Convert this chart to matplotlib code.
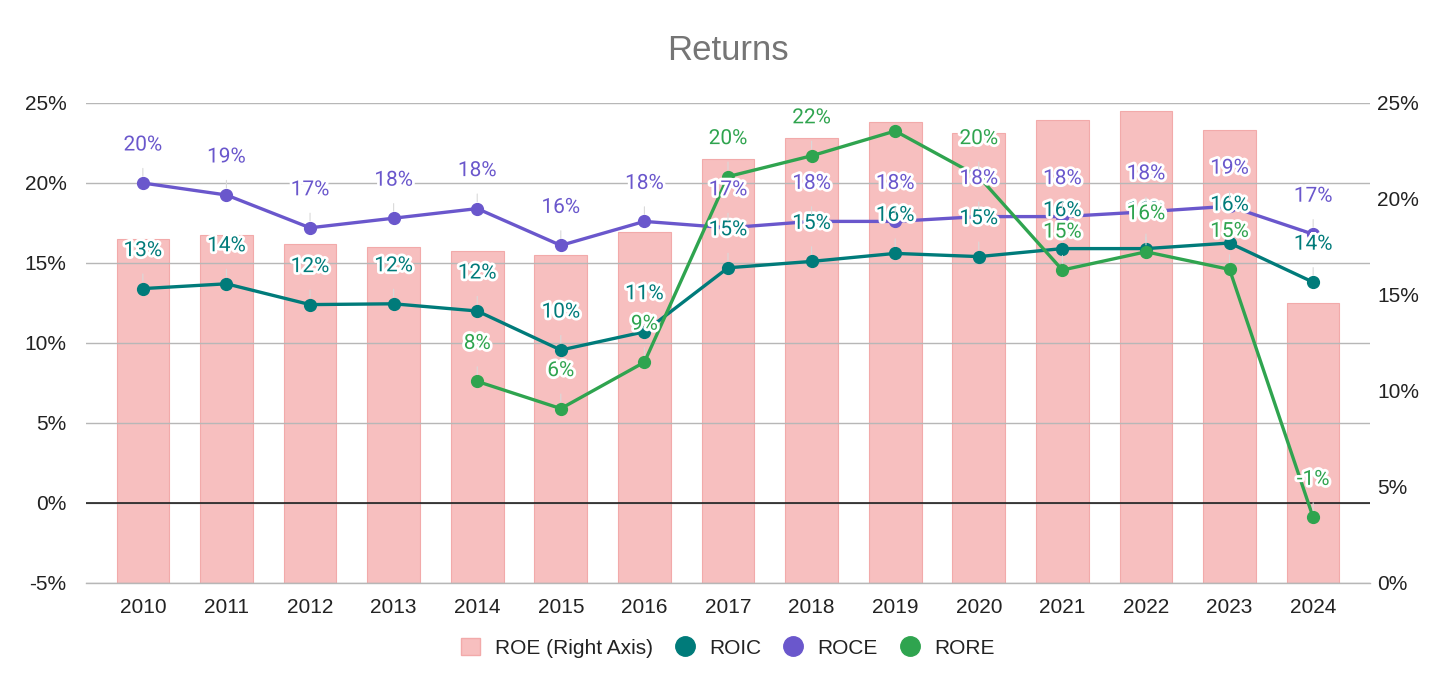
import numpy as np
import matplotlib
matplotlib.use("Agg")
import matplotlib.pyplot as plt
from matplotlib.patches import Patch
from matplotlib.lines import Line2D
import matplotlib.patheffects as pe

years = [str(y) for y in range(2010, 2025)]
roe = [17.9, 18.1, 17.65, 17.5, 17.3, 17.1, 18.3, 22.1, 23.2, 24.0, 23.45, 24.1, 24.6, 23.6, 14.57]
roic = [13.4, 13.7, 12.4, 12.45, 12.0, 9.56, 10.7, 14.7, 15.1, 15.6, 15.4, 15.9, 15.9, 16.25, 13.8]
roce = [20.0, 19.25, 17.2, 17.8, 18.4, 16.1, 17.6, 17.2, 17.6, 17.6, 17.9, 17.9, 18.2, 18.55, 16.8]
rore = [np.nan, np.nan, np.nan, np.nan, 7.6, 5.9, 8.8, 20.4, 21.7, 23.25, 20.4, 14.56, 15.7, 14.6, -0.9]

left_ticks = [-5, 0, 5, 10, 15, 20, 25]
right_ticks = [0, 5, 10, 15, 20, 25]

C_ROE = "#f7bfbf"
C_ROIC = "#007b7a"
C_ROCE = "#6a57cc"
C_RORE = "#2fa44f"

plt.rcParams['font.family'] = ['Liberation Sans', 'DejaVu Sans']

fig = plt.figure(figsize=(14.56, 6.94), dpi=100)
ax1 = fig.add_axes([86/1456, 1-583/694, (1370-86)/1456, (583-103)/694])
ax2 = ax1.twinx()
ax1.set_zorder(ax2.get_zorder() + 1)
ax1.patch.set_visible(False)

x = np.arange(len(years))
ax2.bar(x, roe, width=0.63, color=C_ROE, edgecolor="#f2aaaa", linewidth=0.8, zorder=1)
ax2.set_ylim(0, 25)
ax2.set_yticks(right_ticks)
ax2.set_yticklabels([f"{t}%" for t in right_ticks])

ax1.set_ylim(-5, 25)
ax1.set_xlim(-0.68, len(years) - 1 + 0.68)
ax1.set_yticks(left_ticks)
ax1.set_yticklabels([f"{t}%" for t in left_ticks])
ax1.set_xticks(x)
ax1.set_xticklabels(years)
ax1.grid(axis='y', color='#b7b7b7', linewidth=1.0)
ax1.axhline(0, color='#111111', linewidth=1.1, zorder=2)
ax1.axhline(-5, color='#b7b7b7', linewidth=1.0, zorder=2, clip_on=False)

for a in (ax1, ax2):
    for s in a.spines.values():
        s.set_visible(False)
    a.tick_params(length=0, labelsize=15, colors='#222222')
ax1.tick_params(axis='y', pad=14)
ax2.tick_params(axis='y', pad=5)
ax1.tick_params(axis='x', pad=11)

series = [(roic, C_ROIC), (roce, C_ROCE), (rore, C_RORE)]
for vals, c in series:
    ax1.plot(x, vals, color=c, linewidth=2.4, marker='o', markersize=8.5, zorder=3)

stroke = [pe.withStroke(linewidth=4, foreground='white')]
for vals, c in series:
    for xi, v in zip(x, vals):
        if np.isnan(v):
            continue
        if v + 38 / 16 > 25:
            continue
        ax1.annotate(f"{round(v)}%", xy=(xi, v), xytext=(0, 38), textcoords='offset pixels',
                     ha='center', va='center', fontsize=15, color=c, family=['Roboto', 'DejaVu Sans'],
                     path_effects=stroke, zorder=5,
                     arrowprops=dict(arrowstyle='-', color='#d9d9d9', lw=0.8, shrinkA=8, shrinkB=5))

fig.text(0.5, 1-50/694, "Returns", ha='center', va='center', fontsize=25, color='#757575')

handles = [
    Patch(facecolor=C_ROE, edgecolor="#f2aaaa", label="ROE (Right Axis)"),
    Line2D([], [], linestyle='none', marker='o', markersize=14, color=C_ROIC, label="ROIC"),
    Line2D([], [], linestyle='none', marker='o', markersize=14, color=C_ROCE, label="ROCE"),
    Line2D([], [], linestyle='none', marker='o', markersize=14, color=C_RORE, label="RORE"),
]
fig.legend(handles=handles, loc='center', bbox_to_anchor=(0.5, 1-648/694), ncol=4, frameon=False,
           fontsize=15, handlelength=0.9, handleheight=0.9, handletextpad=0.7, columnspacing=1.1,
           labelcolor='#222222')

fig.savefig("out.png", dpi=100)
